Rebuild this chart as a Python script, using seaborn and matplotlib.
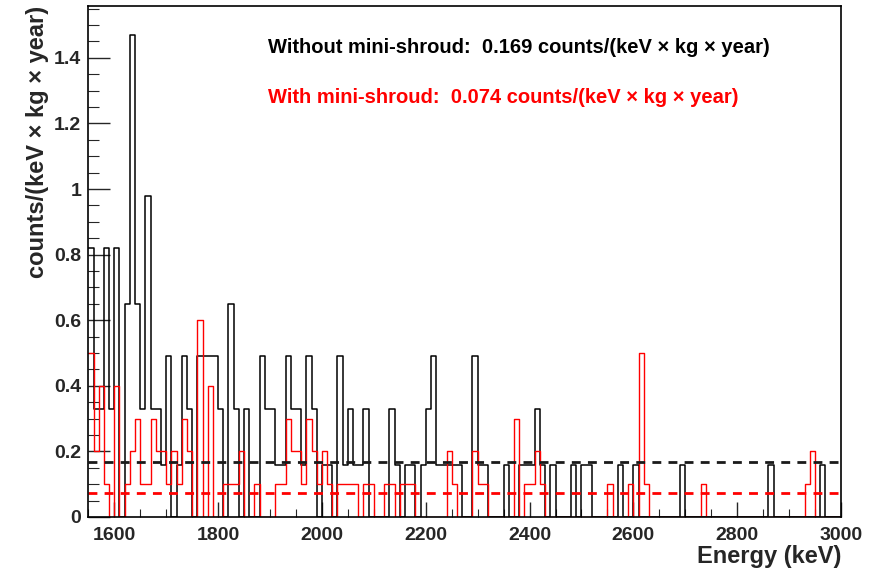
import numpy as np
import pandas as pd
import matplotlib
matplotlib.use("Agg")
import matplotlib.pyplot as plt
import seaborn as sns
from matplotlib.ticker import MultipleLocator, FuncFormatter

# ---------------- data ----------------
e_min, e_max, bin_width = 1550, 3000, 10       # keV

# counts/(keV x kg x year), one value per 10 keV bin (rows = 100 keV)
without_shroud = [
    0.82, 0.33, 0.33, 0.82, 0.33,                                  # 1550-1590
    0.82, 0.00, 0.65, 1.47, 0.65, 0.33, 0.98, 0.33, 0.33, 0.16,    # 1600
    0.49, 0.00, 0.16, 0.49, 0.33, 0.00, 0.49, 0.49, 0.49, 0.49,    # 1700
    0.33, 0.00, 0.65, 0.33, 0.00, 0.33, 0.00, 0.00, 0.49, 0.33,    # 1800
    0.33, 0.16, 0.16, 0.49, 0.33, 0.33, 0.16, 0.49, 0.33, 0.00,    # 1900
    0.16, 0.16, 0.00, 0.49, 0.16, 0.33, 0.16, 0.16, 0.33, 0.00,    # 2000
    0.00, 0.00, 0.00, 0.33, 0.16, 0.00, 0.16, 0.16, 0.00, 0.16,    # 2100
    0.33, 0.49, 0.16, 0.16, 0.16, 0.16, 0.16, 0.00, 0.00, 0.49,    # 2200
    0.16, 0.16, 0.00, 0.00, 0.00, 0.16, 0.00, 0.00, 0.16, 0.16,    # 2300
    0.16, 0.33, 0.16, 0.00, 0.16, 0.00, 0.00, 0.00, 0.16, 0.00,    # 2400
    0.16, 0.16, 0.00, 0.00, 0.00, 0.00, 0.00, 0.16, 0.00, 0.00,    # 2500
    0.16, 0.00, 0.00, 0.00, 0.00, 0.00, 0.00, 0.00, 0.00, 0.16,    # 2600
    0.00, 0.00, 0.00, 0.00, 0.00, 0.00, 0.00, 0.00, 0.00, 0.00,    # 2700
    0.00, 0.00, 0.00, 0.00, 0.00, 0.00, 0.16, 0.00, 0.00, 0.00,    # 2800
    0.00, 0.00, 0.00, 0.00, 0.00, 0.00, 0.16, 0.00, 0.00, 0.00,    # 2900
]

with_shroud = [
    0.5, 0.2, 0.4, 0.1, 0.0,                                       # 1550-1590
    0.4, 0.0, 0.1, 0.2, 0.3, 0.1, 0.1, 0.3, 0.2, 0.2,              # 1600
    0.1, 0.2, 0.1, 0.3, 0.2, 0.0, 0.6, 0.0, 0.4, 0.0,              # 1700
    0.0, 0.1, 0.1, 0.1, 0.2, 0.0, 0.0, 0.1, 0.0, 0.0,              # 1800
    0.0, 0.1, 0.1, 0.3, 0.2, 0.2, 0.1, 0.3, 0.2, 0.1,              # 1900
    0.2, 0.1, 0.0, 0.1, 0.1, 0.1, 0.1, 0.0, 0.1, 0.1,              # 2000
    0.0, 0.0, 0.1, 0.1, 0.0, 0.1, 0.1, 0.1, 0.0, 0.0,              # 2100
    0.0, 0.0, 0.0, 0.0, 0.2, 0.1, 0.0, 0.0, 0.0, 0.2,              # 2200
    0.1, 0.1, 0.0, 0.0, 0.0, 0.0, 0.0, 0.3, 0.0, 0.1,              # 2300
    0.1, 0.2, 0.1, 0.0, 0.0, 0.0, 0.0, 0.0, 0.0, 0.0,              # 2400
    0.0, 0.0, 0.0, 0.0, 0.0, 0.1, 0.0, 0.0, 0.0, 0.1,              # 2500
    0.0, 0.5, 0.1, 0.0, 0.0, 0.0, 0.0, 0.0, 0.0, 0.0,              # 2600
    0.0, 0.0, 0.0, 0.1, 0.0, 0.0, 0.0, 0.0, 0.0, 0.0,              # 2700
    0.0, 0.0, 0.0, 0.0, 0.0, 0.0, 0.0, 0.0, 0.0, 0.0,              # 2800
    0.0, 0.0, 0.0, 0.1, 0.2, 0.0, 0.0, 0.0, 0.0, 0.0,              # 2900
]

mean_without = 0.169
mean_with = 0.074

label_without = "Without mini-shroud:  0.169 counts/(keV \u00d7 kg \u00d7 year)"
label_with = "With mini-shroud:  0.074 counts/(keV \u00d7 kg \u00d7 year)"
x_title = "Energy (keV)"
y_title = "counts/(keV \u00d7 kg \u00d7 year)"

# ---------------- plot ----------------
sns.set_theme(style="white")
plt.rcParams['font.family'] = ['Liberation Sans', 'DejaVu Sans']
plt.rcParams['font.weight'] = 'bold'

centers = np.arange(e_min, e_max, bin_width) + bin_width / 2
df = pd.DataFrame({"energy": centers,
                   "without": np.asarray(without_shroud, dtype=float),
                   "with": np.asarray(with_shroud, dtype=float)})

fig = plt.figure(figsize=(8.84, 5.71), dpi=100)
ax = fig.add_axes([0.0999, 0.0946, 0.9514 - 0.0999, 0.9895 - 0.0946])

common = dict(binwidth=bin_width, binrange=(e_min, e_max),
              element="step", fill=False, ax=ax)
sns.histplot(data=df, x="energy", weights="without", color="black",
             linewidth=1.1, **common)
sns.histplot(data=df, x="energy", weights="with", color="#ff0000",
             linewidth=1.0, **common)

ax.axhline(mean_without, color="#1a1a1a", linewidth=2.0, dashes=(3.2, 2.6))
ax.axhline(mean_with, color="#ff0000", linewidth=2.0, dashes=(3.2, 2.6))

ax.set_xlim(e_min, e_max)
ax.set_ylim(0, 1.558)

ax.xaxis.set_major_locator(MultipleLocator(200))
ax.xaxis.set_minor_locator(MultipleLocator(50))
ax.yaxis.set_major_locator(MultipleLocator(0.2))
ax.yaxis.set_minor_locator(MultipleLocator(0.05))
ax.yaxis.set_major_formatter(FuncFormatter(lambda v, p: "%g" % round(v, 2)))

ax.tick_params(axis="y", which="major", direction="in", length=16, width=1.0,
               labelsize=14, pad=5, left=True, right=False)
ax.tick_params(axis="y", which="minor", direction="in", length=8, width=0.8,
               left=True, right=False)
ax.tick_params(axis="x", which="major", direction="in", length=11, width=1.0,
               labelsize=14, pad=7, bottom=True, top=False)
ax.tick_params(axis="x", which="minor", direction="in", length=5.5, width=0.8,
               bottom=True, top=False)
for lab in ax.get_xticklabels() + ax.get_yticklabels():
    lab.set_fontweight("bold")

for s in ax.spines.values():
    s.set_color("black")
    s.set_linewidth(1.2)

ax.set_xlabel(x_title, fontsize=17, fontweight="bold", loc="right", labelpad=1)
ax.set_ylabel(y_title, fontsize=17, fontweight="bold", loc="top", labelpad=4)

ax.text(0.2387, 0.918, label_without, transform=ax.transAxes, fontsize=14.5,
        fontweight="bold", color="black", va="center", ha="left")
ax.text(0.2387, 0.820, label_with, transform=ax.transAxes, fontsize=14.5,
        fontweight="bold", color="#ff0000", va="center", ha="left")

fig.savefig("out.png", dpi=100, facecolor="white")
